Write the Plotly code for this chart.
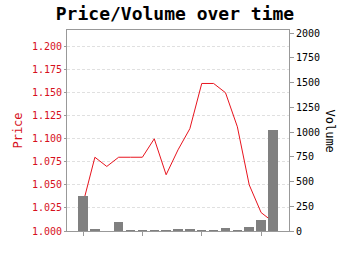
import plotly.graph_objects as go

positions = list(range(17))
price = [1.030, 1.080, 1.070, 1.080, 1.080, 1.080, 1.100, 1.061, 1.088, 1.111,
         1.160, 1.160, 1.150, 1.113, 1.050, 1.020, 1.010]
volume = [350, 15, 0, 90, 8, 8, 2, 5, 18, 25, 3, 3, 30, 3, 40, 110, 1020]
tick_positions = [0, 5, 10, 15]
price_ticks = [1.000, 1.025, 1.050, 1.075, 1.100, 1.125, 1.150, 1.175, 1.200]
volume_ticks = [0, 250, 500, 750, 1000, 1250, 1500, 1750, 2000]

MONO = "DejaVu Sans Mono"
RED = "#d6101c"

fig = go.Figure()
fig.add_trace(go.Bar(x=positions, y=volume, yaxis="y2", marker=dict(color="#808080", line=dict(width=0)),
                     width=0.8, showlegend=False))
fig.add_trace(go.Scatter(x=positions, y=price, mode="lines", line=dict(color="#e8141e", width=1),
                         showlegend=False))

fig.update_layout(
    width=350, height=255,
    margin=dict(l=67, r=61, t=30, b=24),
    paper_bgcolor="white", plot_bgcolor="white",
    title=dict(text="<b>Price/Volume over time</b>", x=0.5, xanchor="center", y=0.945, yanchor="middle",
               font=dict(family=MONO, size=18, color="black")),
    xaxis=dict(range=[-1.35, 17.35], tickvals=tick_positions, ticktext=["", "", "", ""],
               ticks="outside", ticklen=4, tickcolor="#999", showgrid=False, zeroline=False,
               showline=True, linecolor="#999", mirror=True),
    yaxis=dict(range=[1.0, 1.218], tickvals=price_ticks, tickformat=".3f",
               tickfont=dict(family=MONO, size=10, color=RED),
               ticks="outside", ticklen=2, tickcolor="#999",
               showgrid=True, gridcolor="#e0e0e0", griddash="3px,2px", gridwidth=1, zeroline=False,
               showline=True, linecolor="#999",
               title=dict(text="Price", font=dict(family=MONO, size=12, color=RED), standoff=6)),
    yaxis2=dict(range=[0, 2033], tickvals=volume_ticks, overlaying="y", side="right",
                tickfont=dict(family=MONO, size=10, color="black"),
                ticks="outside", ticklen=4, tickcolor="#999", showgrid=False, zeroline=False,
                showline=True, linecolor="#999"),
    bargap=0,
)
fig.add_annotation(text="Volume", xref="paper", yref="paper", x=1, xanchor="center", xshift=41,
                   y=0.5, yanchor="middle",
                   textangle=90, showarrow=False, font=dict(family=MONO, size=12, color="black"))

fig.write_html("out.html")
